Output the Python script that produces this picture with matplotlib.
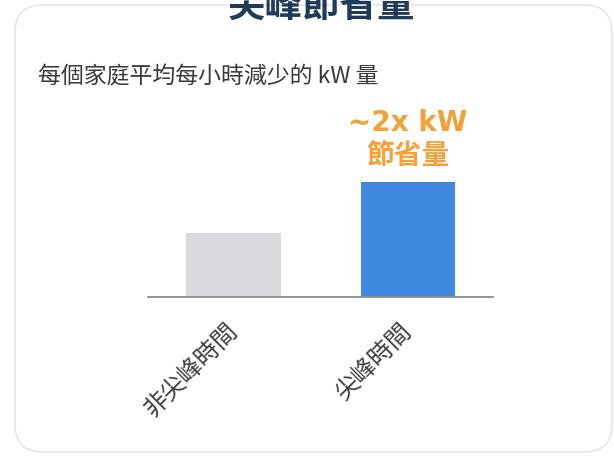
import matplotlib
matplotlib.use("Agg")
import matplotlib.pyplot as plt
from matplotlib.patches import FancyBboxPatch
from matplotlib.transforms import ScaledTranslation

plt.rcParams['font.family'] = ['Noto Sans CJK TC', 'DejaVu Sans']

# Data
categories = ["非尖峰時間", "尖峰時間"]
values = [1.0, 1.8]
bar_colors = ["#DAD8DC", "#3E88E0"]
title = "尖峰節省量"
subtitle = "每個家庭平均每小時減少的 kW 量"
note_line1 = "~2x kW"
note_line2 = "節省量"

W, H = 614, 457
fig = plt.figure(figsize=(W / 100, H / 100), dpi=100)
fig.patch.set_facecolor("white")

# Card background
card = FancyBboxPatch((15 / W, 5 / H), (612 - 15) / W, (452 - 5) / H,
                      boxstyle="round,pad=0,rounding_size=0.045",
                      transform=fig.transFigure, facecolor="white",
                      edgecolor="#E2E2E2", linewidth=1.0, mutation_aspect=W / H,
                      zorder=-5)
fig.patches.append(card)

# Title (partially cut off at top, as in the source)
fig.text(321 / W, (H - 17) / H, title, ha="center", va="baseline",
         fontsize=27, fontweight="bold", color="#1F3B58")

# Subtitle
fig.text(38 / W, (H - 77) / H, subtitle, ha="left", va="center",
         fontsize=16.5, fontweight="medium", color="#3A3A3A")

# Axes
base_px = 297
top_px = 100
ax = fig.add_axes([148 / W, (H - base_px) / H, (493 - 148) / W, (base_px - top_px) / H])
ax.set_facecolor("none")
x = list(range(len(categories)))
ax.bar(x, values, width=0.544, color=bar_colors, zorder=2)
ax.set_xlim(-0.49, 1.487)
ax.set_ylim(0, (base_px - top_px) / 64.0)

for s in ["top", "right", "left"]:
    ax.spines[s].set_visible(False)
ax.spines["bottom"].set_color("#8C8C8C")
ax.spines["bottom"].set_linewidth(1.3)
ax.set_yticks([])
ax.set_xticks(x)
ax.set_xticklabels(categories, rotation=45, ha="right", rotation_mode="anchor",
                   fontsize=17.5, color="#404040")
ax.tick_params(axis="x", length=0, pad=15)
shift = ScaledTranslation(-9 / 100, 0, fig.dpi_scale_trans)
for lbl in ax.get_xticklabels():
    lbl.set_transform(lbl.get_transform() + shift)

# Annotation above the peak bar
ax.annotate(note_line2, xy=(x[1], values[1]), xytext=(0, 26), textcoords="offset pixels",
            ha="center", va="center", fontsize=20, fontweight="bold", color="#F4A138")
ax.annotate(note_line1, xy=(x[1], values[1]), xytext=(0, 59), textcoords="offset pixels",
            ha="center", va="center", fontsize=20, fontweight="bold", color="#F4A138",
            family=["DejaVu Sans"])

fig.savefig("out.png", dpi=100, facecolor="white")
